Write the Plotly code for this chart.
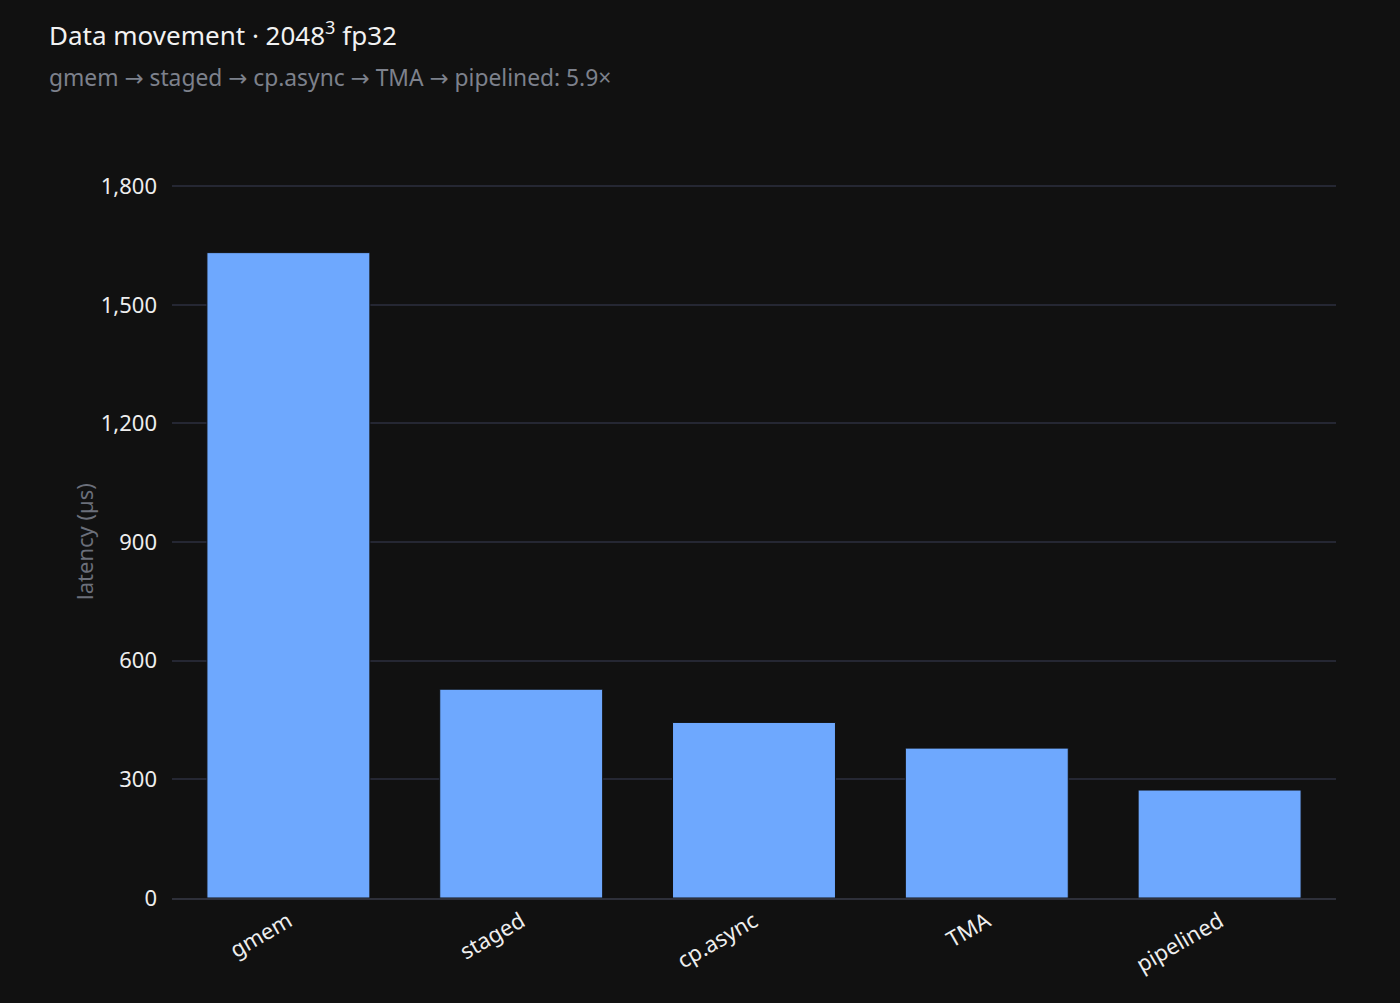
import plotly.graph_objects as go

categories = ["gmem", "staged", "cp.async", "TMA", "pipelined"]
latency_us = [1632, 528, 444, 379, 273]
y_ticks = [0, 300, 600, 900, 1200, 1500, 1800]
y_tick_labels = ["0", "300", "600", "900", "1,200", "1,500", "1,800"]

W, H = 1400, 1003
l, r, t, b = 172, 64, 185, 105
pw, ph = W - l - r, H - t - b


def px(xp):
    return (xp - l) / pw


def py(yp):
    return (H - b - yp) / ph


FONT = "Noto Sans, DejaVu Sans, sans-serif"

fig = go.Figure(
    go.Bar(
        x=categories,
        y=latency_us,
        marker=dict(color="#6ea8fe", line=dict(color="#111111", width=1)),
        hovertemplate="%{x}: %{y} µs<extra></extra>",
    )
)

fig.update_layout(
    width=W,
    height=H,
    paper_bgcolor="#111111",
    plot_bgcolor="#111111",
    font=dict(family=FONT, color="#e6e6e6", size=22),
    margin=dict(l=l, r=r, t=t, b=b),
    bargap=0.3,
    showlegend=False,
)
fig.add_annotation(text="Data movement · 2048<sup>3</sup> fp32", x=px(47), y=py(34),
                   xref="paper", yref="paper", xanchor="left", yanchor="middle",
                   showarrow=False, font=dict(family=FONT, size=26, color="#f2f2f2"))
fig.add_annotation(text="gmem → staged → cp.async → TMA → pipelined: 5.9×", x=px(47), y=py(78),
                   xref="paper", yref="paper", xanchor="left", yanchor="middle",
                   showarrow=False, font=dict(family=FONT, size=22.8, color="#7d818c"))

fig.update_xaxes(
    tickangle=-30,
    showgrid=False,
    showline=True,
    linecolor="#2e303a",
    linewidth=2,
    tickfont=dict(family=FONT, size=22, color="#eeeeee"),
    ticks="",
)
fig.update_yaxes(
    range=[0, 1803],
    tickvals=y_ticks,
    ticktext=y_tick_labels,
    showgrid=True,
    gridcolor="#252733",
    gridwidth=1.5,
    zeroline=False,
    tickfont=dict(family=FONT, size=22, color="#eeeeee"),
    ticklabelstandoff=14,
    title=dict(text="latency (µs)", font=dict(family=FONT, size=22, color="#6b6f7a"), standoff=1),
)

fig.write_html(
    "out.html",
    config={"displayModeBar": False},
    post_script="document.body.style.margin='0';document.body.style.background='#111111';",
)
